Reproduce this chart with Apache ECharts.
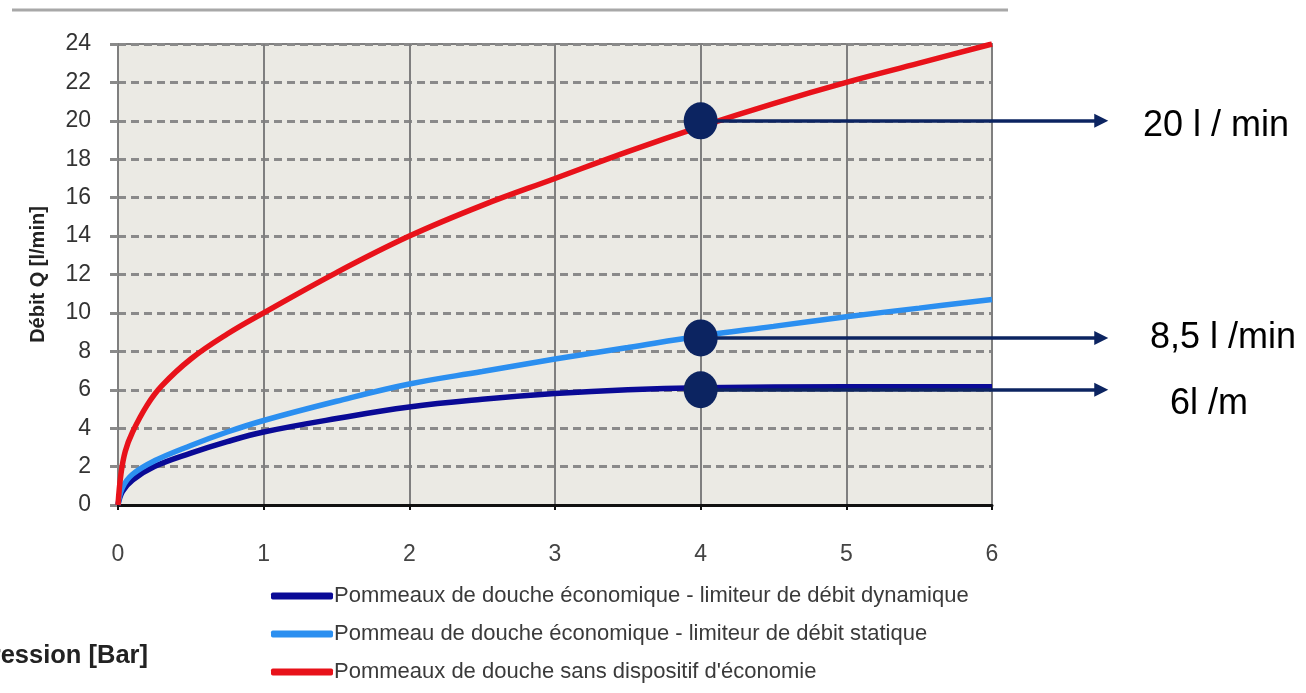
<!DOCTYPE html>
<html>
<head>
<meta charset="utf-8">
<script src="https://cdn.jsdelivr.net/npm/echarts@6/dist/echarts.min.js"></script>
<style>
html,body{margin:0;padding:0;background:#fff;}
#c{width:1306px;height:693px;}
</style>
</head>
<body>
<div id="c"></div>
<script>
// Pression [Bar] -> Débit [l/min]
const dynamicLimiter = [[0,0],[0.03,0.7],[0.1,1.3],[0.25,2.0],[0.5,2.7],[0.75,3.3],[1,3.8],[1.5,4.5],[2,5.1],[2.5,5.5],[3,5.8],[3.5,6.0],[4,6.1],[5,6.15],[6,6.15]];
const staticLimiter = [[0,0],[0.03,0.9],[0.1,1.6],[0.25,2.3],[0.5,3.1],[0.75,3.8],[1,4.4],[1.5,5.4],[2,6.3],[2.5,6.95],[3,7.6],[3.5,8.2],[4,8.8],[4.5,9.3],[5,9.8],[5.5,10.25],[6,10.7]];
const noSaving = [[0,0],[0.02,1.6],[0.05,2.8],[0.1,3.8],[0.2,5.2],[0.3,6.2],[0.5,7.6],[0.75,8.9],[1,10],[1.5,12.1],[2,14],[2.5,15.6],[3,17],[3.5,18.4],[4,19.7],[4.5,20.9],[5,22],[5.5,23],[6,24]];
const seriesNames = [
  "Pommeaux de douche économique - limiteur de débit dynamique",
  "Pommeau de douche économique - limiteur de débit statique",
  "Pommeaux de douche sans dispositif d'économie"
];
const xTicks = [0,1,2,3,4,5,6];
const yTicks = [0,2,4,6,8,10,12,14,16,18,20,22,24];
const markerPoints = [[4,20],[4,8.7],[4,6.0]];
const arrowEndX = 6.75;
const markerLabels = ["20 l / min","8,5 l /min","6l /m"];

const chart = echarts.init(document.getElementById('c'));
const ff = "'Liberation Sans',Arial,sans-serif";
const navy = '#0c2461';

chart.setOption({
  animation:false,
  backgroundColor:'#ffffff',
  grid:{left:118,right:314,top:44,bottom:188,show:true,backgroundColor:'#ebeae4',borderColor:'#7f7f7f',borderWidth:2},
  legend:{
    orient:'vertical', left:266, top:580, itemGap:16, itemWidth:62, itemHeight:7,
    icon:'roundRect',
    textStyle:{fontFamily:ff,fontSize:22,color:'#3a3a3a',padding:[0,0,0,-4]},
    data:seriesNames
  },
  xAxis:{
    type:'value',min:0,max:6,interval:1,
    axisLine:{show:true,lineStyle:{color:'#111',width:3}},
    axisTick:{show:true,length:5,lineStyle:{color:'#111',width:2}},
    axisLabel:{margin:38,fontSize:23,fontFamily:ff,color:'#444',formatter:v=>xTicks.includes(v)?String(v):''},
    splitLine:{show:true,lineStyle:{color:'#7f7f7f',width:2}}
  },
  yAxis:{
    type:'value',min:0,max:24,interval:2,
    name:'Débit Q [l/min]',nameLocation:'middle',nameGap:70,nameRotate:90,
    nameTextStyle:{fontFamily:ff,fontSize:20,fontWeight:'bold',color:'#222'},
    axisLine:{show:true,lineStyle:{color:'#7f7f7f',width:2}},
    axisTick:{show:true,length:11,lineStyle:{color:'#8a8a8a',width:3,type:[8,5]}},
    axisLabel:{margin:27,fontSize:23,fontFamily:ff,color:'#333',formatter:v=>yTicks.includes(v)?String(v):''},
    splitLine:{show:true,lineStyle:{color:'#8a8a8a',width:3,type:[8,5]}}
  },
  series:[
    {name:seriesNames[0],type:'line',data:dynamicLimiter,smooth:0.4,showSymbol:false,symbol:'none',lineStyle:{color:'#0a0a96',width:5.5},itemStyle:{color:'#0a0a96'},z:3},
    {name:seriesNames[1],type:'line',data:staticLimiter,smooth:0.4,showSymbol:false,symbol:'none',lineStyle:{color:'#2b8ff0',width:5.5},itemStyle:{color:'#2b8ff0'},z:3},
    {name:seriesNames[2],type:'line',data:noSaving,smooth:0.4,showSymbol:false,symbol:'none',lineStyle:{color:'#e8121a',width:5.5},itemStyle:{color:'#e8121a'},z:3},
    {type:'lines',coordinateSystem:'cartesian2d',clip:false,z:5,
      symbol:['none','triangle'],symbolSize:[15,14],
      lineStyle:{color:navy,width:3.5,opacity:1},
      data:markerPoints.map(p=>({coords:[p,[arrowEndX,p[1]]]}))
    },
    {type:'scatter',clip:false,z:6,symbol:'circle',symbolSize:[34,37],itemStyle:{color:navy,opacity:1},data:markerPoints}
  ],
  graphic:[
    {type:'line',shape:{x1:12,y1:10,x2:1008,y2:10},style:{stroke:'#a8a8a8',lineWidth:3}},
    {type:'text',x:1143,y:126,style:{text:markerLabels[0],font:"36px "+ff,fill:'#000',textVerticalAlign:'middle'}},
    {type:'text',x:1150,y:338,style:{text:markerLabels[1],font:"36px "+ff,fill:'#000',textVerticalAlign:'middle'}},
    {type:'text',x:1170,y:404,style:{text:markerLabels[2],font:"36px "+ff,fill:'#000',textVerticalAlign:'middle'}},
    {type:'text',x:148,y:656,style:{text:'Pression [Bar]',font:"bold 25.5px "+ff,fill:'#222',textAlign:'right',textVerticalAlign:'middle'}}
  ]
});
</script>
</body>
</html>
